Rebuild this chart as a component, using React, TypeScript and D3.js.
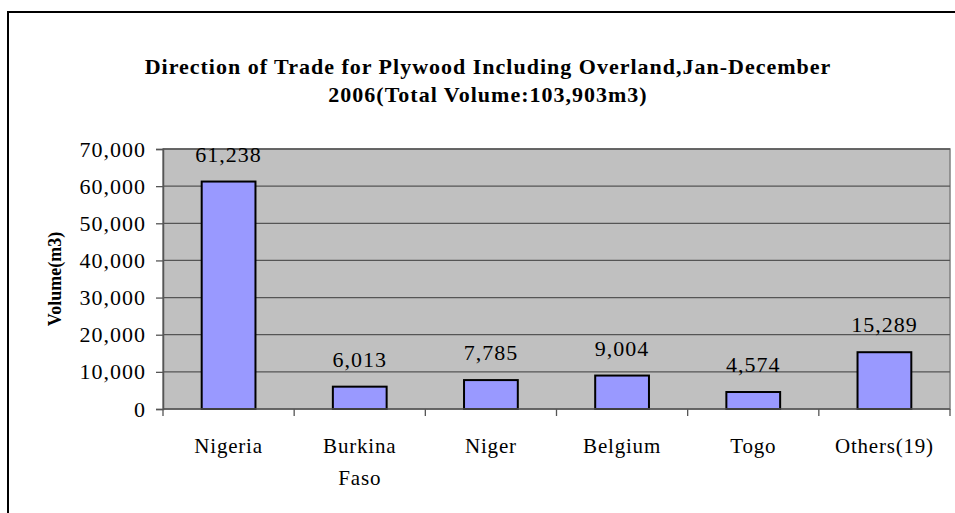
import { useEffect, useRef } from "react"
import * as d3 from "d3"

const categories = ["Nigeria", "Burkina Faso", "Niger", "Belgium", "Togo", "Others(19)"]
const volumes = [61238, 6013, 7785, 9004, 4574, 15289]
const yTicks = [0, 10000, 20000, 30000, 40000, 50000, 60000, 70000]
const titleLines = [
  "Direction of Trade for Plywood Including Overland,Jan-December",
  "2006(Total Volume:103,903m3)",
]

export default function App() {
  const ref = useRef<SVGSVGElement>(null)

  useEffect(() => {
    if (!ref.current) return
    const svg = d3.select(ref.current)
    svg.selectAll("*").remove()

    const width = 955
    const height = 513
    const m = { left: 163, right: 5, top: 149, bottom: 104 }
    const serif = "'Liberation Serif', 'Times New Roman', serif"

    // outer frame
    svg.append("rect")
      .attr("x", 8).attr("y", 12)
      .attr("width", width + 10).attr("height", height + 10)
      .attr("fill", "#fff").attr("stroke", "#000").attr("stroke-width", 2)

    const x = d3.scaleBand().domain(categories).range([m.left, width - m.right]).paddingInner(0).paddingOuter(0)
    const y = d3.scaleLinear().domain([0, 70000]).range([height - m.bottom, m.top])

    // plot area
    svg.append("rect")
      .attr("x", m.left).attr("y", m.top)
      .attr("width", width - m.right - m.left).attr("height", height - m.bottom - m.top)
      .attr("fill", "#c0c0c0").attr("stroke", "#808080").attr("stroke-width", 1.5)

    svg.append("g").selectAll("line")
      .data(yTicks.slice(1))
      .join("line")
      .attr("x1", m.left).attr("x2", width - m.right)
      .attr("y1", (d) => y(d)).attr("y2", (d) => y(d))
      .attr("stroke", "#555").attr("stroke-width", 1.3)

    // bars
    const barW = x.bandwidth() * 0.41
    svg.append("g").selectAll("rect")
      .data(volumes)
      .join("rect")
      .attr("x", (d, i) => x(categories[i])! + (x.bandwidth() - barW) / 2)
      .attr("y", (d) => y(d))
      .attr("width", barW)
      .attr("height", (d) => y(0) - y(d))
      .attr("fill", "#9999ff").attr("stroke", "#000").attr("stroke-width", 2)

    svg.append("g").selectAll("text")
      .data(volumes)
      .join("text")
      .attr("x", (d, i) => x(categories[i])! + x.bandwidth() / 2)
      .attr("y", (d) => y(d) - 20)
      .attr("text-anchor", "middle")
      .attr("font-family", serif).attr("font-size", 22).attr("letter-spacing", 1)
      .text((d) => d3.format(",")(d))

    // y axis
    const yAxis = svg.append("g").attr("transform", `translate(${m.left},0)`)
      .call(d3.axisLeft(y).tickValues(yTicks).tickSize(7).tickPadding(10).tickFormat((d) => d3.format(",")(d as number)))
    yAxis.select(".domain").attr("stroke", "#555").attr("stroke-width", 1.5)
    yAxis.selectAll(".tick line").attr("stroke", "#555").attr("stroke-width", 1.3)
    yAxis.selectAll(".tick text")
      .attr("font-family", serif).attr("font-size", 22).attr("letter-spacing", 1)
      .attr("fill", "#000").attr("dy", "0.32em")

    // x axis
    const base = height - m.bottom
    svg.append("line").attr("x1", m.left).attr("x2", width - m.right)
      .attr("y1", base).attr("y2", base).attr("stroke", "#555").attr("stroke-width", 1.5)
    const edges = categories.map((c) => x(c)!).concat([width - m.right])
    svg.append("g").selectAll("line")
      .data(edges)
      .join("line")
      .attr("x1", (d) => d).attr("x2", (d) => d)
      .attr("y1", base).attr("y2", base + 7)
      .attr("stroke", "#555").attr("stroke-width", 1.3)

    const catLabels = svg.append("g").selectAll("text")
      .data(categories)
      .join("text")
      .attr("x", (d) => x(d)! + x.bandwidth() / 2)
      .attr("y", base + 44)
      .attr("text-anchor", "middle")
      .attr("font-family", serif).attr("font-size", 21).attr("letter-spacing", 0.8)
    catLabels.each(function (d) {
      const words = d === "Burkina Faso" ? ["Burkina", "Faso"] : [d]
      const t = d3.select(this)
      words.forEach((w, i) => {
        t.append("tspan").attr("x", x(d)! + x.bandwidth() / 2).attr("dy", i === 0 ? 0 : 32).text(w)
      })
    })

    // axis title
    svg.append("text")
      .attr("transform", `translate(61,${(m.top + base) / 2}) rotate(-90)`)
      .attr("text-anchor", "middle")
      .attr("font-family", serif).attr("font-size", 18).attr("font-weight", "bold")
      .text("Volume(m3)")

    // chart title
    svg.append("g").selectAll("text")
      .data(titleLines)
      .join("text")
      .attr("x", 488)
      .attr("y", (d, i) => 74 + i * 28)
      .attr("text-anchor", "middle")
      .attr("font-family", serif).attr("font-size", 22).attr("font-weight", "bold")
      .attr("letter-spacing", 1)
      .text((d) => d)
  }, [])

  return (
    <svg
      ref={ref}
      width={955}
      height={513}
      style={{ position: "absolute", left: 0, top: 0, background: "#fff" }}
    />
  )
}
